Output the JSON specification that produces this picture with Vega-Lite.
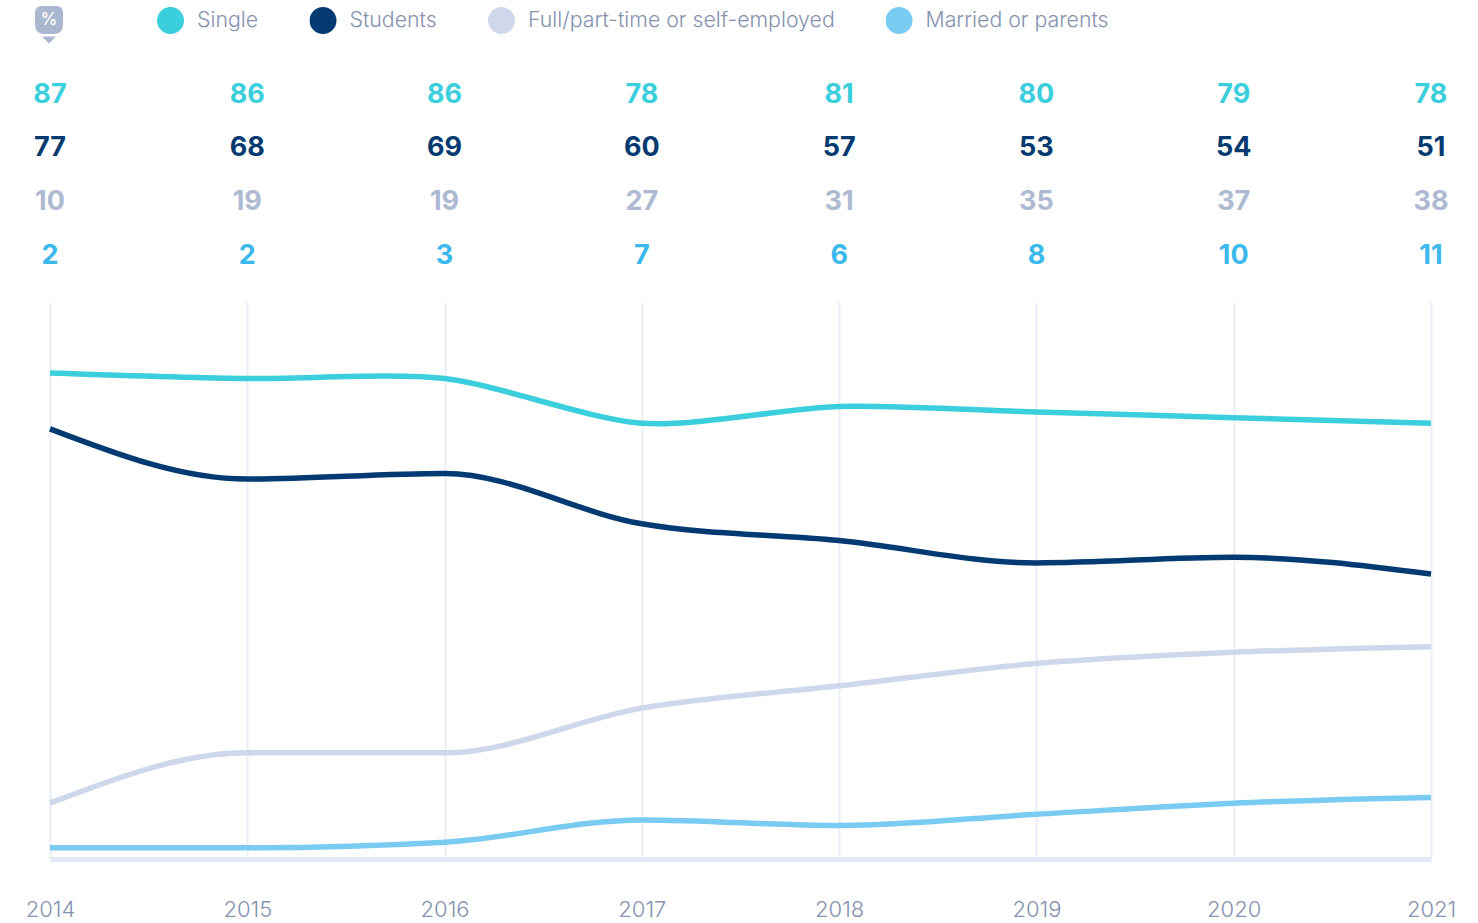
{
"$schema":"https://vega.github.io/schema/vega-lite/v6.json",
"padding":{"left":25,"top":0,"right":0,"bottom":0},
"background":"white",
"spacing":0,
"resolve":{"scale":{"color":"independent","fill":"independent"}},
"config":{"view":{"stroke":null},"font":"Inter","concat":{"spacing":0}},
"datasets":{"rows":[
{"year":2014,"series":"Single","value":87},{"year":2015,"series":"Single","value":86},{"year":2016,"series":"Single","value":86},{"year":2017,"series":"Single","value":78},{"year":2018,"series":"Single","value":81},{"year":2019,"series":"Single","value":80},{"year":2020,"series":"Single","value":79},{"year":2021,"series":"Single","value":78},
{"year":2014,"series":"Students","value":77},{"year":2015,"series":"Students","value":68},{"year":2016,"series":"Students","value":69},{"year":2017,"series":"Students","value":60},{"year":2018,"series":"Students","value":57},{"year":2019,"series":"Students","value":53},{"year":2020,"series":"Students","value":54},{"year":2021,"series":"Students","value":51},
{"year":2014,"series":"Full/part-time or self-employed","value":10},{"year":2015,"series":"Full/part-time or self-employed","value":19},{"year":2016,"series":"Full/part-time or self-employed","value":19},{"year":2017,"series":"Full/part-time or self-employed","value":27},{"year":2018,"series":"Full/part-time or self-employed","value":31},{"year":2019,"series":"Full/part-time or self-employed","value":35},{"year":2020,"series":"Full/part-time or self-employed","value":37},{"year":2021,"series":"Full/part-time or self-employed","value":38},
{"year":2014,"series":"Married or parents","value":2},{"year":2015,"series":"Married or parents","value":2},{"year":2016,"series":"Married or parents","value":3},{"year":2017,"series":"Married or parents","value":7},{"year":2018,"series":"Married or parents","value":6},{"year":2019,"series":"Married or parents","value":8},{"year":2020,"series":"Married or parents","value":10},{"year":2021,"series":"Married or parents","value":11}
]},
"vconcat":[
{"width":1381,"height":302,
"encoding":{
"x":{"field":"year","type":"quantitative","axis":null,"scale":{"domain":[2014,2021],"nice":false,"zero":false}},
"y":{"field":"series","type":"nominal","axis":null,"scale":{"type":"point","padding":0,"domain":["%","Single","Students","Full/part-time or self-employed","Married or parents"],"range":[41,255.8]}}
},
"layer":[
{"data":{"name":"rows"},
"mark":{"type":"point","filled":true,"size":0,"opacity":1},
"encoding":{"fill":{"field":"series","type":"nominal","scale":{"domain":["Single","Students","Full/part-time or self-employed","Married or parents"],"range":["#3bcedd","#023a71","#ced8ea","#7acbf1"]},
"legend":{"title":null,"orient":"none","legendX":107,"legendY":7,"direction":"horizontal","columns":4,"symbolType":"circle","symbolSize":729,"symbolOpacity":1,"symbolStrokeWidth":0,"labelFont":"Inter","labelFontSize":21.3,"labelFontWeight":300,"labelColor":"#8592b0","labelLimit":500,"labelOffset":13,"columnPadding":50.5,"padding":0,"clipHeight":27}}}},
{"data":{"name":"rows"},
"mark":{"type":"text","font":"Inter","fontSize":27,"fontWeight":700,"baseline":"middle","align":"center"},
"encoding":{"text":{"field":"value","type":"quantitative"},
"color":{"field":"series","type":"nominal","legend":null,"scale":{"domain":["Single","Students","Full/part-time or self-employed","Married or parents"],"range":["#3bcfdd","#033a70","#aeb9d2","#3bb8ec"]}}}},
{"data":{"values":[{"year":2014,"series":"%","label":"%"}]},
"mark":{"type":"point","filled":true,"opacity":1,"color":"#abb6d0","size":784,"xOffset":-1,"yOffset":-21,"strokeWidth":0,"shape":"M-0.5,-1 H0.5 Q1,-1 1,-0.5 V0.3 Q1,1 0.3,1 H-0.3 Q-1,1 -1,0.3 V-0.5 Q-1,-1 -0.5,-1 Z"}},
{"data":{"values":[{"year":2014,"series":"%","label":"%"}]},
"mark":{"type":"point","filled":true,"opacity":1,"color":"#abb6d0","size":196,"xOffset":-1,"yOffset":-1,"strokeWidth":0,"shape":"M-1,-0.5 L1,-0.5 L0,0.5 Z"}},
{"data":{"values":[{"year":2014,"series":"%","label":"%"}]},
"mark":{"type":"text","font":"Inter","fontSize":17,"fontWeight":500,"color":"white","baseline":"middle","align":"center","xOffset":-1,"yOffset":-21},
"encoding":{"text":{"field":"label","type":"nominal"}}}
]},
{"width":1381,"height":557,
"data":{"name":"rows"},
"encoding":{
"x":{"field":"year","type":"quantitative","scale":{"domain":[2014,2021],"nice":false,"zero":false},
"axis":{"title":null,"values":[2014,2015,2016,2017,2018,2019,2020,2021],"format":"d","grid":true,"gridColor":"#e9eef7","gridWidth":2,"ticks":false,"domainColor":"#e2e8f6","domainWidth":5,"labelFont":"Inter","labelFontSize":22,"labelFontWeight":300,"labelColor":"#8592b0","labelPadding":40,"labelOverlap":false,"labelFlush":false,"zindex":0}},
"y":{"field":"value","type":"quantitative","axis":null,"scale":{"domain":[0,99.7],"nice":false}},
"color":{"field":"series","type":"nominal","legend":null,"sort":null,"scale":{"domain":["Single","Students","Full/part-time or self-employed","Married or parents"],"range":["#3bcedd","#023a71","#ced8ea","#7acbf1"]}}
},
"layer":[
{"transform":[{"filter":"datum.series !== 'Single'"}],
"mark":{"type":"line","interpolate":"monotone","strokeWidth":5.5,"strokeCap":"butt"}},
{"transform":[{"filter":"datum.series === 'Single'"}],
"mark":{"type":"line","interpolate":"cardinal","tension":0.2,"strokeWidth":5.5,"strokeCap":"butt"}}
]}
]}
